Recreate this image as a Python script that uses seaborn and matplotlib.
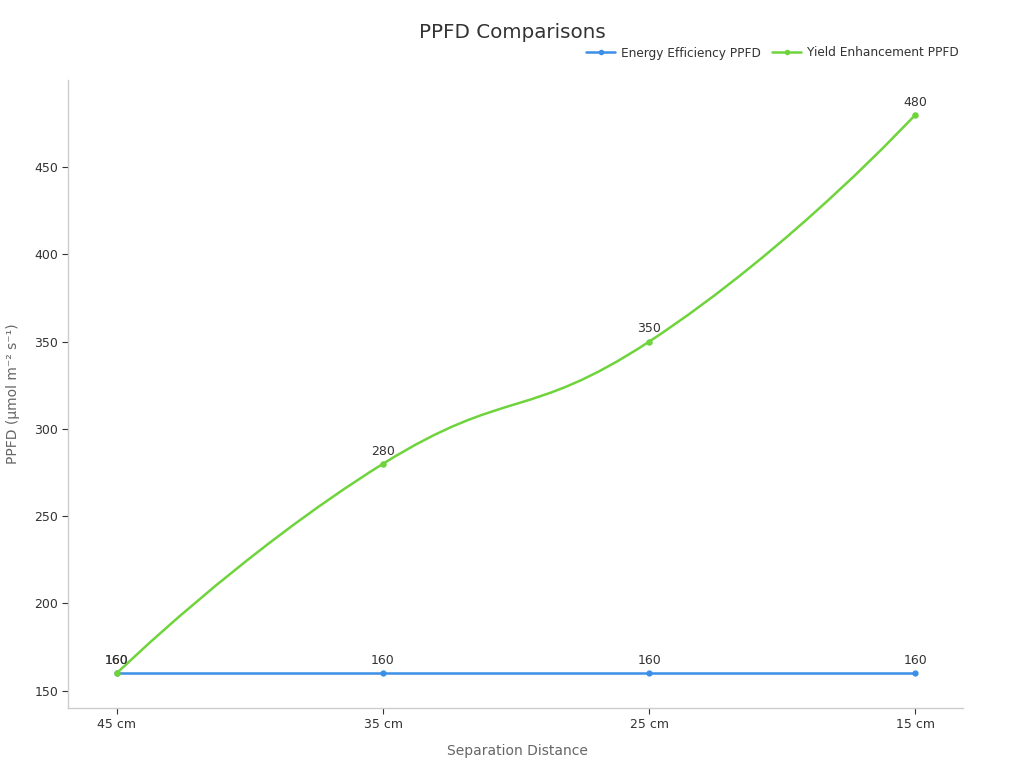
import numpy as np
import pandas as pd
import matplotlib
matplotlib.use("Agg")
import matplotlib.pyplot as plt
import seaborn as sns
from matplotlib.path import Path
from matplotlib.patches import PathPatch
from matplotlib.lines import Line2D

categories = ["45 cm", "35 cm", "25 cm", "15 cm"]
energy_eff = [160, 160, 160, 160]
yield_enh = [160, 280, 350, 480]
series_names = ["Energy Efficiency PPFD", "Yield Enhancement PPFD"]
colors = ["#3b8fe6", "#6fd43c"]

sns.set_theme(style="white")
plt.rcParams['font.family'] = ['DejaVu Sans']

fig = plt.figure(figsize=(10.24, 7.68), dpi=100)
ax = fig.add_axes([68/1024, 1-708/768, (963-68)/1024, (708-80)/768])

x = np.arange(len(categories))
ax.set_xlim(-0.184, 3.18)
ax.set_ylim(140, 500)

df_e = pd.DataFrame({"x": x, "y": energy_eff})
df_y = pd.DataFrame({"x": x, "y": yield_enh})

sns.lineplot(data=df_e, x="x", y="y", ax=ax, color=colors[0], lw=1.8,
             marker="o", markersize=4.5, markeredgewidth=0, zorder=3)
sns.scatterplot(data=df_y, x="x", y="y", ax=ax, color=colors[1], s=22,
                linewidth=0, zorder=4)

# smooth curve (echarts-like bezier, smooth=0.5) for yield series
fig.canvas.draw()
pts = ax.transData.transform(np.column_stack([x, yield_enh]).astype(float))
smooth = 0.5
n = len(pts)
cin = [pts[0]] * n
cout = [pts[0]] * n
for i in range(n):
    p = pts[i]
    if i == 0 or i == n - 1:
        cin[i] = p
        cout[i] = p
        continue
    prev = pts[i-1]
    nxt = pts[i+1]
    v = (nxt - prev) * smooth
    d0 = np.linalg.norm(p - prev)
    d1 = np.linalg.norm(p - nxt)
    s = d0 + d1
    cin[i] = p - v * d0 / s
    cout[i] = p + v * d1 / s
verts = [pts[0]]
codes = [Path.MOVETO]
for i in range(n-1):
    verts += [cout[i], cin[i+1], pts[i+1]]
    codes += [Path.CURVE4]*3
verts = ax.transData.inverted().transform(np.array(verts))
path = Path(verts, codes)
ax.add_patch(PathPatch(path, fill=False, edgecolor=colors[1], lw=1.8, zorder=3))

for xi, yi in zip(x, energy_eff):
    ax.annotate(str(yi), (xi, yi), xytext=(0, 4.5), textcoords="offset points",
                ha="center", va="bottom", fontsize=9, color="#333333", zorder=5)
for xi, yi in zip(x, yield_enh):
    ax.annotate(str(yi), (xi, yi), xytext=(0, 4.5), textcoords="offset points",
                ha="center", va="bottom", fontsize=9, color="#333333", zorder=5)

ax.set_xticks(x)
ax.set_xticklabels(categories)
ax.set_yticks([150, 200, 250, 300, 350, 400, 450])
ax.tick_params(axis="both", labelsize=9, colors="#333333", length=4, width=0.8,
               direction="out", bottom=True, left=True)
ax.tick_params(axis="x", pad=3)
ax.tick_params(axis="y", pad=3)
for t in ax.get_xticklines() + ax.get_yticklines():
    t.set_color("#666666")
for sp in ["top", "right"]:
    ax.spines[sp].set_visible(False)
for sp in ["left", "bottom"]:
    ax.spines[sp].set_color("#cccccc")
    ax.spines[sp].set_linewidth(1)

ax.set_xlabel("Separation Distance", fontsize=10, color="#666666")
ax.set_ylabel("PPFD (μmol m⁻² s⁻¹)", fontsize=10, color="#666666")
ax.xaxis.set_label_coords((517-68)/895, (708-751)/628)
ax.yaxis.set_label_coords((13-68)/895, 0.5)
ax.xaxis.label.set_va("center")
ax.yaxis.label.set_va("center")

fig.text(512/1024, 1-33/768, "PPFD Comparisons", ha="center", va="center",
         fontsize=14.3, color="#333333")

handles = [Line2D([0], [0], color=c, lw=1.8, marker="o", markersize=4, markeredgewidth=0)
           for c in colors]
fig.legend(handles, series_names, loc="center right", bbox_to_anchor=(959/1024, 1-53/768),
           ncol=2, frameon=False, fontsize=8.75, handlelength=2.4, columnspacing=0.9,
           handletextpad=0.5, labelcolor="#333333", borderpad=0, borderaxespad=0)

fig.savefig("out.png", dpi=100)
